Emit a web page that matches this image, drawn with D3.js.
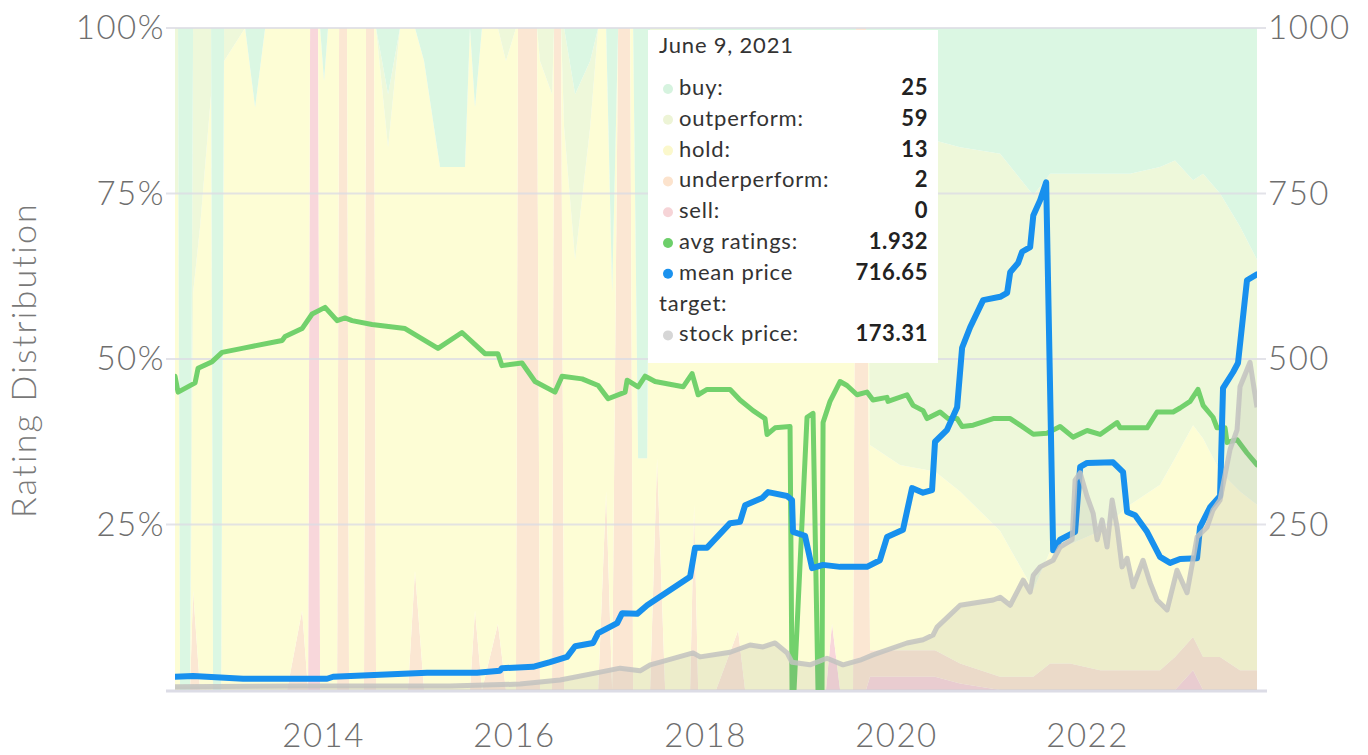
<!DOCTYPE html>
<html>
<head>
<meta charset="utf-8">
<script src="https://cdn.jsdelivr.net/npm/d3@7"></script>
<style>
  body { margin: 0; background: #fff; }
  text { font-family: "Lato", "Open Sans", sans-serif; }
  .axis text { fill: #6e6e6e; font-size: 33px; font-weight: 300; letter-spacing: 1.5px; }
  .axis path, .axis line { display: none; }
  .tip text { font-size: 22px; fill: #333; letter-spacing: 0.8px; }
  .tip .val { font-weight: 700; fill: #222; text-anchor: end; letter-spacing: 0.6px; }
</style>
</head>
<body>
<svg id="chart" width="1368" height="755"></svg>
<script>
// rating distribution (analyst counts), dates as decimal years
const ratingYears = [2012.450, 2012.482, 2012.503, 2012.607, 2012.639, 2012.712, 2012.827, 2012.848, 2012.932, 2012.963,
    2013.183, 2013.288, 2013.393, 2013.623, 2013.780, 2013.843, 2013.864, 2013.948, 2013.969, 2014.010,
    2014.052, 2014.147, 2014.168, 2014.251, 2014.272, 2014.429, 2014.450, 2014.534, 2014.555, 2014.681,
    2014.806, 2014.890, 2014.963, 2015.058, 2015.225, 2015.487, 2015.539, 2015.592, 2015.665, 2015.832,
    2015.916, 2016.021, 2016.042, 2016.241, 2016.272, 2016.398, 2016.419, 2016.492, 2016.524, 2016.639,
    2016.796, 2016.880, 2016.963, 2017.026, 2017.089, 2017.215, 2017.246, 2017.298, 2017.393, 2017.424,
    2017.497, 2017.581, 2017.843, 2017.885, 2017.927, 2018.031, 2018.115, 2018.346, 2018.419, 2018.649,
    2018.890, 2019.267, 2019.330, 2019.414, 2019.550, 2019.581, 2019.686, 2019.728, 2020.042, 2020.408,
    2020.670, 2021.089, 2021.436, 2021.613, 2021.822, 2022.136, 2022.450, 2022.764, 2022.921, 2023.110,
    2023.215, 2023.393, 2023.602, 2023.780];
const buyCounts = [0, 0, 100, 100, 0, 0, 0, 100, 100, 0,
    0, 12, 0, 0, 0, 0, 0, 0, 0, 8,
    0, 0, 0, 0, 0, 0, 0, 0, 0, 10,
    0, 0, 0, 5, 21, 21, 0, 12, 0, 0,
    0, 0, 0, 0, 0, 0, 0, 0, 0, 10,
    5, 0, 0, 40, 0, 0, 0, 65, 65, 0,
    0, 0, 0, 0, 0, 30, 5, 5, 5, 10,
    10, 10, 10, 10, 10, 0, 0, 18, 18, 17,
    18, 19, 25, 22, 22, 22, 22, 21, 20, 23,
    22, 25, 30, 35];
const outperformCounts = [25, 25, 0, 0, 40, 30, 10, 0, 0, 5,
    0, 0, 0, 0, 0, 0, 0, 0, 0, 0,
    0, 0, 0, 0, 0, 0, 0, 0, 0, 8,
    0, 0, 0, 0, 0, 0, 0, 0, 0, 0,
    5, 0, 0, 0, 5, 10, 0, 0, 15, 25,
    10, 0, 0, 0, 0, 0, 0, 0, 0, 15,
    10, 15, 15, 15, 15, 20, 15, 15, 15, 20,
    15, 20, 20, 20, 20, 0, 0, 45, 48, 50,
    52, 57, 59, 57, 56, 54, 50, 48, 45, 37,
    40, 42, 40, 37];
const holdCounts = [75, 75, 0, 0, 45, 70, 90, 0, 0, 95,
    100, 88, 100, 100, 88, 100, 0, 0, 100, 92,
    100, 100, 0, 0, 100, 100, 0, 0, 100, 82,
    100, 100, 82, 95, 79, 79, 100, 76, 100, 90,
    95, 100, 0, 0, 95, 90, 0, 0, 85, 65,
    85, 100, 70, 60, 0, 0, 100, 35, 35, 85,
    55, 85, 85, 57, 85, 50, 80, 71, 80, 70,
    75, 70, 60, 70, 70, 0, 0, 31, 28, 27,
    26, 22, 13, 17, 18, 21, 25, 28, 30, 32,
    33, 28, 27, 25];
const underperformCounts = [0, 0, 0, 0, 15, 0, 0, 0, 0, 0,
    0, 0, 0, 0, 12, 0, 0, 0, 0, 0,
    0, 0, 100, 100, 0, 0, 100, 100, 0, 0,
    0, 0, 18, 0, 0, 0, 0, 12, 0, 10,
    0, 0, 100, 100, 0, 0, 100, 100, 0, 0,
    0, 0, 30, 0, 100, 100, 0, 0, 0, 0,
    35, 0, 0, 28, 0, 0, 0, 9, 0, 0,
    0, 0, 0, 0, 0, 100, 100, 4, 4, 4,
    3, 2, 2, 4, 4, 3, 3, 3, 5, 5,
    5, 5, 3, 3];
const sellCounts = [0, 0, 0, 0, 0, 0, 0, 0, 0, 0,
    0, 0, 0, 0, 0, 0, 100, 100, 0, 0,
    0, 0, 0, 0, 0, 0, 0, 0, 0, 0,
    0, 0, 0, 0, 0, 0, 0, 0, 0, 0,
    0, 0, 0, 0, 0, 0, 0, 0, 0, 0,
    0, 0, 0, 0, 0, 0, 0, 0, 0, 0,
    0, 0, 0, 0, 0, 0, 0, 0, 0, 0,
    0, 0, 10, 0, 0, 0, 0, 2, 2, 2,
    1, 0, 0, 0, 0, 0, 0, 0, 0, 3,
    0, 0, 0, 0];

// average rating (1 = buy ... 5 = sell)
const avgYears = [2012.450, 2012.482, 2012.660, 2012.691, 2012.838, 2012.942, 2013.152, 2013.571, 2013.602, 2013.780,
    2013.885, 2014.021, 2014.147, 2014.230, 2014.304, 2014.513, 2014.859, 2015.204, 2015.455, 2015.696,
    2015.832, 2015.874, 2016.084, 2016.220, 2016.429, 2016.503, 2016.712, 2016.880, 2016.984, 2017.162,
    2017.183, 2017.298, 2017.372, 2017.476, 2017.770, 2017.864, 2017.927, 2018.021, 2018.262, 2018.366,
    2018.503, 2018.628, 2018.649, 2018.733, 2018.890, 2018.911, 2018.932, 2019.068, 2019.131, 2019.183,
    2019.225, 2019.236, 2019.309, 2019.414, 2019.487, 2019.592, 2019.696, 2019.759, 2019.906, 2019.916,
    2020.115, 2020.178, 2020.283, 2020.325, 2020.461, 2020.545, 2020.639, 2020.691, 2020.806, 2021.016,
    2021.194, 2021.298, 2021.436, 2021.581, 2021.717, 2021.853, 2022.000, 2022.136, 2022.314, 2022.346,
    2022.628, 2022.733, 2022.901, 2022.974, 2023.079, 2023.162, 2023.215, 2023.319, 2023.361, 2023.445,
    2023.466, 2023.571, 2023.675, 2023.780];
const avgRatings = [2.37, 2.25, 2.32, 2.43, 2.48, 2.55, 2.58, 2.64, 2.67, 2.73,
    2.84, 2.89, 2.79, 2.81, 2.79, 2.76, 2.73, 2.58, 2.70, 2.54,
    2.54, 2.45, 2.47, 2.33, 2.25, 2.37, 2.35, 2.30, 2.20, 2.25,
    2.34, 2.29, 2.37, 2.33, 2.29, 2.39, 2.23, 2.27, 2.27, 2.19,
    2.11, 2.05, 1.93, 1.98, 1.99, 0, 0, 2.06, 2.09, 0,
    0, 2.02, 2.18, 2.33, 2.30, 2.23, 2.25, 2.19, 2.21, 2.18,
    2.23, 2.15, 2.11, 2.05, 2.10, 2.05, 2.05, 1.99, 2.00, 2.05,
    2.05, 2.00, 1.932, 1.94, 1.99, 1.91, 1.96, 1.93, 2.02, 1.98,
    1.98, 2.10, 2.10, 2.13, 2.18, 2.27, 2.15, 2.06, 1.98, 1.98,
    1.87, 1.89, 1.79, 1.70];

// mean price target
const targetYears = [2012.450, 2012.639, 2013.162, 2014.042, 2014.105, 2015.089, 2015.613, 2015.853, 2015.874, 2016.199,
    2016.377, 2016.555, 2016.639, 2016.827, 2016.880, 2017.079, 2017.131, 2017.288, 2017.393, 2017.843,
    2017.895, 2018.021, 2018.262, 2018.366, 2018.419, 2018.597, 2018.660, 2018.859, 2018.911, 2018.921,
    2019.047, 2019.121, 2019.236, 2019.414, 2019.696, 2019.832, 2019.906, 2020.073, 2020.168, 2020.283,
    2020.377, 2020.408, 2020.534, 2020.639, 2020.691, 2020.775, 2020.911, 2021.089, 2021.162, 2021.194,
    2021.277, 2021.319, 2021.403, 2021.436, 2021.508, 2021.571, 2021.644, 2021.717, 2021.874, 2021.927,
    2022.000, 2022.272, 2022.377, 2022.419, 2022.503, 2022.628, 2022.764, 2022.869, 2022.974, 2023.152,
    2023.183, 2023.288, 2023.393, 2023.424, 2023.529, 2023.581, 2023.675, 2023.780];
const meanTarget = [20, 21, 17, 17, 20, 26, 26, 29, 33, 35,
    42, 50, 66, 71, 86, 101, 116, 115, 128, 171,
    215, 215, 252, 254, 279, 290, 299, 293, 287, 239,
    233, 184, 189, 186, 186, 196, 231, 242, 305, 298,
    302, 375, 393, 427, 517, 548, 589, 594, 600, 631,
    645, 662, 669, 716.65, 740, 767, 211, 227, 239, 337,
    343, 344, 329, 269, 264, 239, 201, 192, 198, 199,
    246, 276, 293, 456, 480, 494, 619, 628];

// stock price
const stockYears = [2012.450, 2013.759, 2015.330, 2016.063, 2016.482, 2016.901, 2017.110, 2017.319, 2017.424, 2017.529,
    2017.874, 2017.948, 2018.262, 2018.471, 2018.607, 2018.733, 2018.859, 2018.911, 2019.099, 2019.277,
    2019.445, 2019.623, 2019.759, 2020.115, 2020.283, 2020.387, 2020.429, 2020.670, 2021.016, 2021.089,
    2021.194, 2021.330, 2021.403, 2021.436, 2021.508, 2021.644, 2021.717, 2021.843, 2021.874, 2021.927,
    2022.000, 2022.063, 2022.105, 2022.157, 2022.209, 2022.262, 2022.314, 2022.366, 2022.419, 2022.482,
    2022.586, 2022.660, 2022.733, 2022.838, 2022.942, 2023.047, 2023.152, 2023.257, 2023.319, 2023.393,
    2023.497, 2023.571, 2023.602, 2023.707, 2023.780];
const stockPrice = [5, 6, 6, 9, 15, 27, 33, 29, 38, 42,
    56, 50, 57, 68, 65, 71, 56, 42, 38, 48,
    38, 45, 53, 71, 76, 83, 95, 128, 136, 140,
    128, 166, 148, 173.31, 186, 196, 216, 227, 317, 328,
    292, 267, 227, 257, 216, 287, 246, 186, 199, 156,
    196, 162, 136, 121, 181, 147, 231, 246, 272, 287,
    363, 393, 458, 495, 427];

const ratingKeys = ["sell", "underperform", "hold", "outperform", "buy"];
const ratingColors = {
    buy: "#dbf7e3", outperform: "#eef8da", hold: "#fdfdd5",
    underperform: "#fbe7d3", sell: "#f8d7db"
};
const tipDate = "June 9, 2021";
const tipRows = [
    ["buy:", "25", "#d6f3df"],
    ["outperform:", "59", "#edf4d6"],
    ["hold:", "13", "#fbf8cc"],
    ["underperform:", "2", "#fce3cd"],
    ["sell:", "0", "#f6d4d7"],
    ["avg ratings:", "1.932", "#6dcf6a"],
    ["mean price", "716.65", "#1b92ee"],
    ["target:", "", null],
    ["stock price:", "173.31", "#d6d6d6"]
];

function yearToDate(y) {
    const yr = Math.floor(y);
    const start = new Date(yr, 0, 1), end = new Date(yr + 1, 0, 1);
    return new Date(+start + (y - yr) * (end - start));
}

var margin = { top: 28, right: 111, bottom: 65, left: 175 },
    width = 1368 - margin.left - margin.right,
    height = 755 - margin.top - margin.bottom;

var svg = d3.select("#chart")
    .append("g")
    .attr("transform", "translate(" + margin.left + "," + margin.top + ")");

var x = d3.scaleTime()
    .domain([yearToDate(2012.45), yearToDate(2023.78)])
    .range([0, width]);
var yPct = d3.scaleLinear().domain([0, 1]).range([height, 0]);
var yPrice = d3.scaleLinear().domain([0, 1000]).range([height, 0]);
var yRating = d3.scaleLinear().domain([0, 5]).range([height, 0]);

svg.append("clipPath").attr("id", "plot-clip")
    .append("rect").attr("width", width).attr("height", height);

// stacked rating distribution
var ratingData = ratingYears.map((yr, i) => ({
    date: yearToDate(yr),
    buy: buyCounts[i],
    outperform: outperformCounts[i],
    hold: holdCounts[i],
    underperform: underperformCounts[i],
    sell: sellCounts[i]
}));

var stacked = d3.stack()
    .keys(ratingKeys)
    .offset(d3.stackOffsetExpand)(ratingData);

var area = d3.area()
    .x(d => x(d.data.date))
    .y0(d => yPct(d[0]))
    .y1(d => yPct(d[1]));

svg.append("g")
    .attr("clip-path", "url(#plot-clip)")
    .selectAll("path")
    .data(stacked)
    .join("path")
    .attr("fill", d => ratingColors[d.key])
    .attr("d", area);

// grid lines
svg.append("g")
    .selectAll("line")
    .data([0.25, 0.5, 0.75, 1])
    .join("line")
    .attr("x1", -9).attr("x2", width + 9)
    .attr("y1", d => yPct(d)).attr("y2", d => yPct(d))
    .attr("stroke", "#dcdce4")
    .attr("stroke-opacity", 0.8)
    .attr("stroke-width", 2);
svg.append("line")
    .attr("x1", -9).attr("x2", width + 10)
    .attr("y1", height + 1).attr("y2", height + 1)
    .attr("stroke", "#dcdce6")
    .attr("stroke-width", 3);

var lines = svg.append("g").attr("clip-path", "url(#plot-clip)");

// avg ratings
var avgData = avgYears.map((yr, i) => ({ date: yearToDate(yr), v: avgRatings[i] }));
lines.append("path")
    .datum(avgData)
    .attr("fill", "none")
    .attr("stroke", "#72d16c")
    .attr("stroke-width", 5)
    .attr("stroke-linejoin", "round")
    .attr("stroke-linecap", "round")
    .attr("d", d3.line().x(d => x(d.date)).y(d => yRating(d.v)));

// mean price target
var targetData = targetYears.map((yr, i) => ({ date: yearToDate(yr), v: meanTarget[i] }));
lines.append("path")
    .datum(targetData)
    .attr("fill", "none")
    .attr("stroke", "#1790ee")
    .attr("stroke-width", 6)
    .attr("stroke-linejoin", "round")
    .attr("stroke-linecap", "round")
    .attr("d", d3.line().x(d => x(d.date)).y(d => yPrice(d.v)));

// stock price, translucent on top
var stockData = stockYears.map((yr, i) => ({ date: yearToDate(yr), v: stockPrice[i] }));
lines.append("path")
    .datum(stockData)
    .attr("fill", "#8f8f8f")
    .attr("fill-opacity", 0.14)
    .attr("d", d3.area().x(d => x(d.date)).y0(height).y1(d => yPrice(d.v)));
lines.append("path")
    .datum(stockData)
    .attr("fill", "none")
    .attr("stroke", "#c2c2c0")
    .attr("stroke-opacity", 0.85)
    .attr("stroke-width", 5)
    .attr("stroke-linejoin", "round")
    .attr("d", d3.line().x(d => x(d.date)).y(d => yPrice(d.v)));

// axes
var xAxis = svg.append("g")
    .attr("class", "axis")
    .attr("transform", "translate(0," + height + ")")
    .call(d3.axisBottom(x).ticks(d3.timeYear.every(2)).tickFormat(d3.timeFormat("%Y")).tickSize(0));
xAxis.selectAll("text").attr("dy", null).attr("y", 57);

svg.append("g")
    .attr("class", "axis")
    .call(d3.axisLeft(yPct).tickValues([0.25, 0.5, 0.75, 1]).tickFormat(d3.format(".0%")).tickSize(0).tickPadding(10));

svg.append("g")
    .attr("class", "axis")
    .attr("transform", "translate(" + width + ",0)")
    .call(d3.axisRight(yPrice).tickValues([250, 500, 750, 1000]).tickFormat(d3.format("d")).tickSize(0).tickPadding(11));

svg.append("text")
    .attr("transform", "translate(" + (28 - margin.left) + "," + (360 - margin.top) + ") rotate(-90)")
    .attr("text-anchor", "middle")
    .attr("dominant-baseline", "middle")
    .style("font-size", "34px")
    .style("font-weight", 300)
    .style("letter-spacing", "2.2px")
    .style("fill", "#787878")
    .text("Rating Distribution");

// tooltip
var tip = d3.select("#chart").append("g")
    .attr("class", "tip")
    .attr("transform", "translate(648,30)");
tip.append("rect")
    .attr("width", 290).attr("height", 333)
    .attr("fill", "#fff");
tip.append("text")
    .attr("x", 11).attr("y", 23)
    .style("font-size", "22px")
    .text(tipDate);
tipRows.forEach((r, i) => {
    let yy = 65 + i * 30.8;
    if (r[2]) {
        tip.append("circle")
            .attr("cx", 20).attr("cy", yy - 6).attr("r", 5)
            .attr("fill", r[2]);
    }
    tip.append("text")
        .attr("x", r[2] ? 31 : 11).attr("y", yy)
        .text(r[0]);
    tip.append("text")
        .attr("class", "val")
        .attr("x", 280).attr("y", yy)
        .text(r[1]);
});
</script>
</body>
</html>
